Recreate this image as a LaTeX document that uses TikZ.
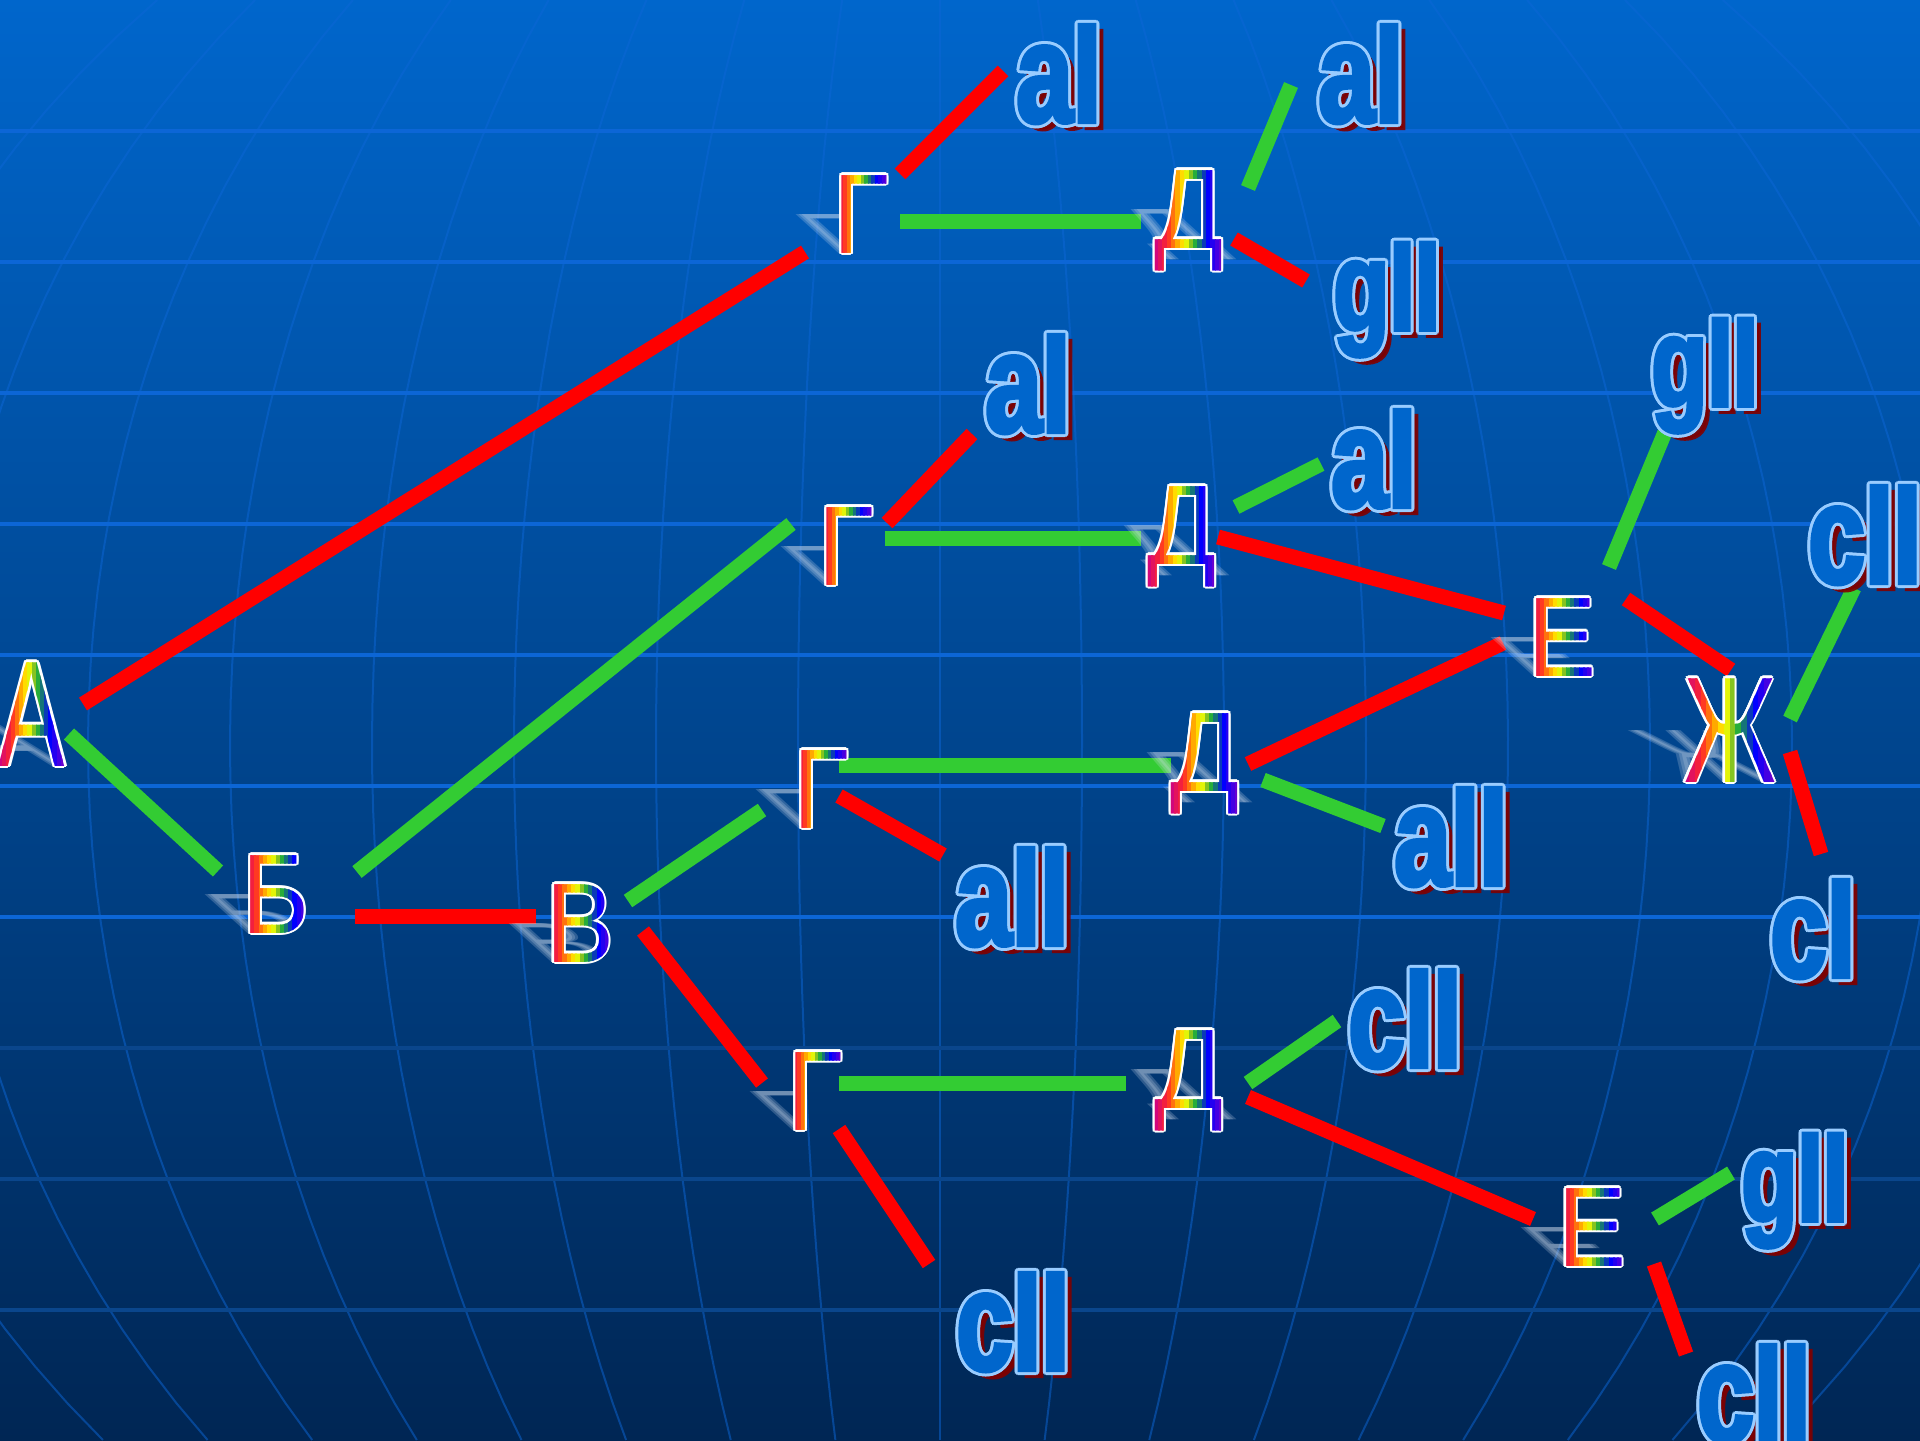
\documentclass[tikz,border=0pt]{standalone}
\usepackage{fontspec}
\setmainfont{Liberation Sans}
\usetikzlibrary{calc}

\newfontfamily\ltrfamily{Liberation Sans}[FakeStretch=0.9]
\newfontfamily\bigltrfamily{Liberation Sans}[FakeStretch=0.66]
\newfontfamily\lblfamily{Liberation Sans Bold}[FakeStretch=0.72, FakeBold=3]
\newcommand\ltrfont{\ltrfamily\fontsize{56.6}{60}\selectfont}
\newcommand\bigltrfont{\bigltrfamily\fontsize{75.4}{78}\selectfont}
\newcommand\lblfont{\lblfamily\fontsize{70.5}{72}\selectfont}
\newcommand\lblgfont{\lblfamily\fontsize{63.5}{66}\selectfont}

\definecolor{bgtop}{RGB}{0,102,204}
\definecolor{bgbot}{RGB}{0,38,84}
\definecolor{gridblue}{RGB}{12,102,214}
\definecolor{griddim}{RGB}{10,70,140}
\definecolor{barred}{RGB}{255,0,0}
\definecolor{bargreen}{RGB}{51,204,51}
\definecolor{lblfill}{RGB}{0,102,204}
\definecolor{lbledge}{RGB}{153,204,255}
\definecolor{lblshade}{RGB}{128,0,0}
\definecolor{shadowwhite}{RGB}{215,225,240}
% rainbow slices, left to right
\definecolor{rb0}{RGB}{209,6,124}
\definecolor{rb1}{RGB}{226,19,93}
\definecolor{rb2}{RGB}{243,31,62}
\definecolor{rb3}{RGB}{255,58,34}
\definecolor{rb4}{RGB}{255,114,13}
\definecolor{rb5}{RGB}{255,169,0}
\definecolor{rb6}{RGB}{255,219,0}
\definecolor{rb7}{RGB}{227,244,8}
\definecolor{rb8}{RGB}{133,196,32}
\definecolor{rb9}{RGB}{40,173,58}
\definecolor{rb10}{RGB}{21,117,120}
\definecolor{rb11}{RGB}{10,58,184}
\definecolor{rb12}{RGB}{1,0,255}
\definecolor{rb13}{RGB}{35,0,240}
\definecolor{rb14}{RGB}{68,0,226}
\definecolor{rb15}{RGB}{103,0,207}

% rainbow letter: name, base point, glyph, font
\newcommand\rbletter[4]{%
  \foreach \dx in {-3,0,3} {
    \begin{scope}[shift={(#2)}, xshift=\dx*0.5pt, xslant=-1.1, yscale=0.5]
      \node[font=#4, text=shadowwhite, opacity=0.22, inner sep=0, anchor=base, transform shape] at (0,0) {#3};
    \end{scope}
  }
  \foreach \a in {0,30,...,330}
    \node[font=#4, text=white, inner sep=0, anchor=base] at ([shift={(\a:2.2)}]#2) {#3};
  \node[font=#4, text=white, inner sep=0, anchor=base] (#1) at (#2) {#3};
  \foreach \i in {0,...,15} {
    \pgfmathsetmacro\fa{\i/16}
    \pgfmathsetmacro\fb{(\i+1.15)/16}
    \begin{scope}
      \clip ($(#1.south west)!\fa!(#1.south east)$) rectangle ($(#1.north west)!\fb!(#1.north east)$);
      \node[font=#4, text=rb\i, inner sep=0, anchor=base] at (#2) {#3};
    \end{scope}
  }
}
% blue label: name, base west point, text, font
\newcommand\seglabel[4]{%
  \node[font=#4, text=lblshade, opacity=0.9, inner sep=0, anchor=base west] at ([shift={(7,6)}]#2) {#3};
  \foreach \a in {0,30,...,330}
    \node[font=#4, text=lbledge, inner sep=0, anchor=base west] at ([shift={(\a:3)}]#2) {#3};
  \node[font=#4, text=lblfill, inner sep=0, anchor=base west] (#1) at (#2) {#3};
}

\pgfdeclarelayer{back}
\pgfdeclarelayer{bars}
\pgfsetlayers{back,bars,main}

\begin{document}
\begin{tikzpicture}[x=0.5pt, y=-0.5pt,
    redbar/.style={draw=barred, line width=7.5pt},
    greenbar/.style={draw=bargreen, line width=7.5pt},
    gridline/.style={draw=gridblue, line width=2pt},
    meridian/.style={draw=gridblue, line width=1pt, opacity=0.5}]
    \useasboundingbox (0,0) rectangle (1920,1440);

    % globe background
    \begin{pgfonlayer}{back}
        \shade[top color=bgtop, bottom color=bgbot] (0,0) rectangle (1920,1440);
        \begin{scope}
            \clip (0,0) rectangle (1920,1440);
            \foreach \k in {-8,...,8}
                \draw[meridian] plot[domain=0:1440, samples=40, variable=\t]
                    ({940+\k*142*sqrt(1-((\t-745)/1028)^2)}, \t);
            \foreach \y in {131,262,...,917}
                \draw[gridline] (0,\y) -- (1920,\y);
            \foreach \y in {1048,1179,1310}
                \draw[gridline, draw=griddim] (0,\y) -- (1920,\y);
        \end{scope}
    \end{pgfonlayer}

    % letters
    \rbletter{A}{32,766}{А}{\bigltrfont}
    \rbletter{B}{276,933}{Б}{\ltrfont}
    \rbletter{V}{580,962}{В}{\ltrfont}
    \rbletter{G1}{861,253}{Г}{\ltrfont}
    \rbletter{G2}{846,585}{Г}{\ltrfont}
    \rbletter{G3}{821,828}{Г}{\ltrfont}
    \rbletter{G4}{815,1130}{Г}{\ltrfont}
    \rbletter{D1}{1189,248}{Д}{\ltrfont}
    \rbletter{D2}{1182,564}{Д}{\ltrfont}
    \rbletter{D3}{1205,791}{Д}{\ltrfont}
    \rbletter{D4}{1189,1108}{Д}{\ltrfont}
    \rbletter{E1}{1562,676}{Е}{\ltrfont}
    \rbletter{E2}{1592,1266}{Е}{\ltrfont}
    \rbletter{Zh}{1730,782}{Ж}{\bigltrfont}

    % labels
    \seglabel{a1}{1016,122}{aI}{\lblfont}
    \seglabel{a2}{1318,122}{aI}{\lblfont}
    \seglabel{g1}{1333,330}{gII}{\lblgfont}
    \seglabel{a3}{985,432}{aI}{\lblfont}
    \seglabel{a4}{1331,507}{aI}{\lblfont}
    \seglabel{g2}{1651,406}{gII}{\lblgfont}
    \seglabel{c1}{1808,583}{cII}{\lblfont}
    \seglabel{aa1}{1394,885}{aII}{\lblfont}
    \seglabel{aa2}{955,945}{aII}{\lblfont}
    \seglabel{c2}{1348,1067}{cII}{\lblfont}
    \seglabel{c3}{1770,977}{cI}{\lblfont}
    \seglabel{g3}{1741,1221}{gII}{\lblgfont}
    \seglabel{c4}{956,1370}{cII}{\lblfont}
    \seglabel{c5}{1697,1442}{cII}{\lblfont}

    % connectors
    \begin{pgfonlayer}{bars}
        \draw[redbar] ([shift={(51,-62)}]A.base) -- ([shift={(-56,-1)}]G1.base);
        \draw[greenbar] ([shift={(37,-32)}]A.base) -- ([shift={(-58,-62)}]B.base);
        \draw[greenbar] ([shift={(81,-61)}]B.base) -- ([shift={(-55,-61)}]G2.base);
        \draw[redbar] ([shift={(79,-17)}]B.base) -- ([shift={(-44,-46)}]V.base);
        \draw[greenbar] ([shift={(48,-61)}]V.base) -- ([shift={(-59,-18)}]G3.base);
        \draw[redbar] ([shift={(63,-31)}]V.base) -- ([shift={(-53,-47)}]G4.base);

        \draw[redbar] ([shift={(39,-79)}]G1.base) -- ([shift={(-13,-51)}]a1.base west);
        \draw[greenbar] ([shift={(39,-32)}]G1.base) -- ([shift={(-48,-27)}]D1.base);
        \draw[greenbar] ([shift={(59,-60)}]D1.base) -- ([shift={(-27,-37)}]a2.base west);
        \draw[redbar] ([shift={(45,-9)}]D1.base) -- ([shift={(-27,-49)}]g1.base west);

        \draw[redbar] ([shift={(41,-62)}]G2.base) -- ([shift={(-13,2)}]a3.base west);
        \draw[greenbar] ([shift={(39,-47)}]G2.base) -- ([shift={(-41,-26)}]D2.base);
        \draw[greenbar] ([shift={(54,-57)}]D2.base) -- ([shift={(-10,-43)}]a4.base west);
        \draw[redbar] ([shift={(36,-27)}]D2.base) -- ([shift={(-58,-63)}]E1.base);

        \draw[greenbar] ([shift={(18,-63)}]G3.base) -- ([shift={(-34,-26)}]D3.base);
        \draw[redbar] ([shift={(18,-32)}]G3.base) -- ([shift={(-12,-90)}]aa2.base west);
        \draw[redbar] ([shift={(43,-27)}]D3.base) -- ([shift={(-59,-33)}]E1.base);
        \draw[greenbar] ([shift={(58,-11)}]D3.base) -- ([shift={(-11,-59)}]aa1.base west);

        \draw[greenbar] ([shift={(24,-47)}]G4.base) -- ([shift={(-63,-25)}]D4.base);
        \draw[redbar] ([shift={(24,-1)}]G4.base) -- ([shift={(-27,-106)}]c4.base west);
        \draw[greenbar] ([shift={(59,-25)}]D4.base) -- ([shift={(-11,-46)}]c2.base west);
        \draw[redbar] ([shift={(59,-11)}]D4.base) -- ([shift={(-59,-47)}]E2.base);

        \draw[greenbar] ([shift={(47,-109)}]E1.base) -- ([shift={(19,14)}]g2.base west);
        \draw[redbar] ([shift={(64,-77)}]E1.base) -- ([shift={(1,-112)}]Zh.base);
        \draw[greenbar] ([shift={(60,-63)}]Zh.base) -- ([shift={(46,5)}]c1.base west);
        \draw[redbar] ([shift={(60,-30)}]Zh.base) -- ([shift={(51,-123)}]c3.base west);

        \draw[greenbar] ([shift={(63,-47)}]E2.base) -- ([shift={(-10,-48)}]g3.base west);
        \draw[redbar] ([shift={(62,-2)}]E2.base) -- ([shift={(-11,-88)}]c5.base west);
    \end{pgfonlayer}
\end{tikzpicture}
\end{document}
